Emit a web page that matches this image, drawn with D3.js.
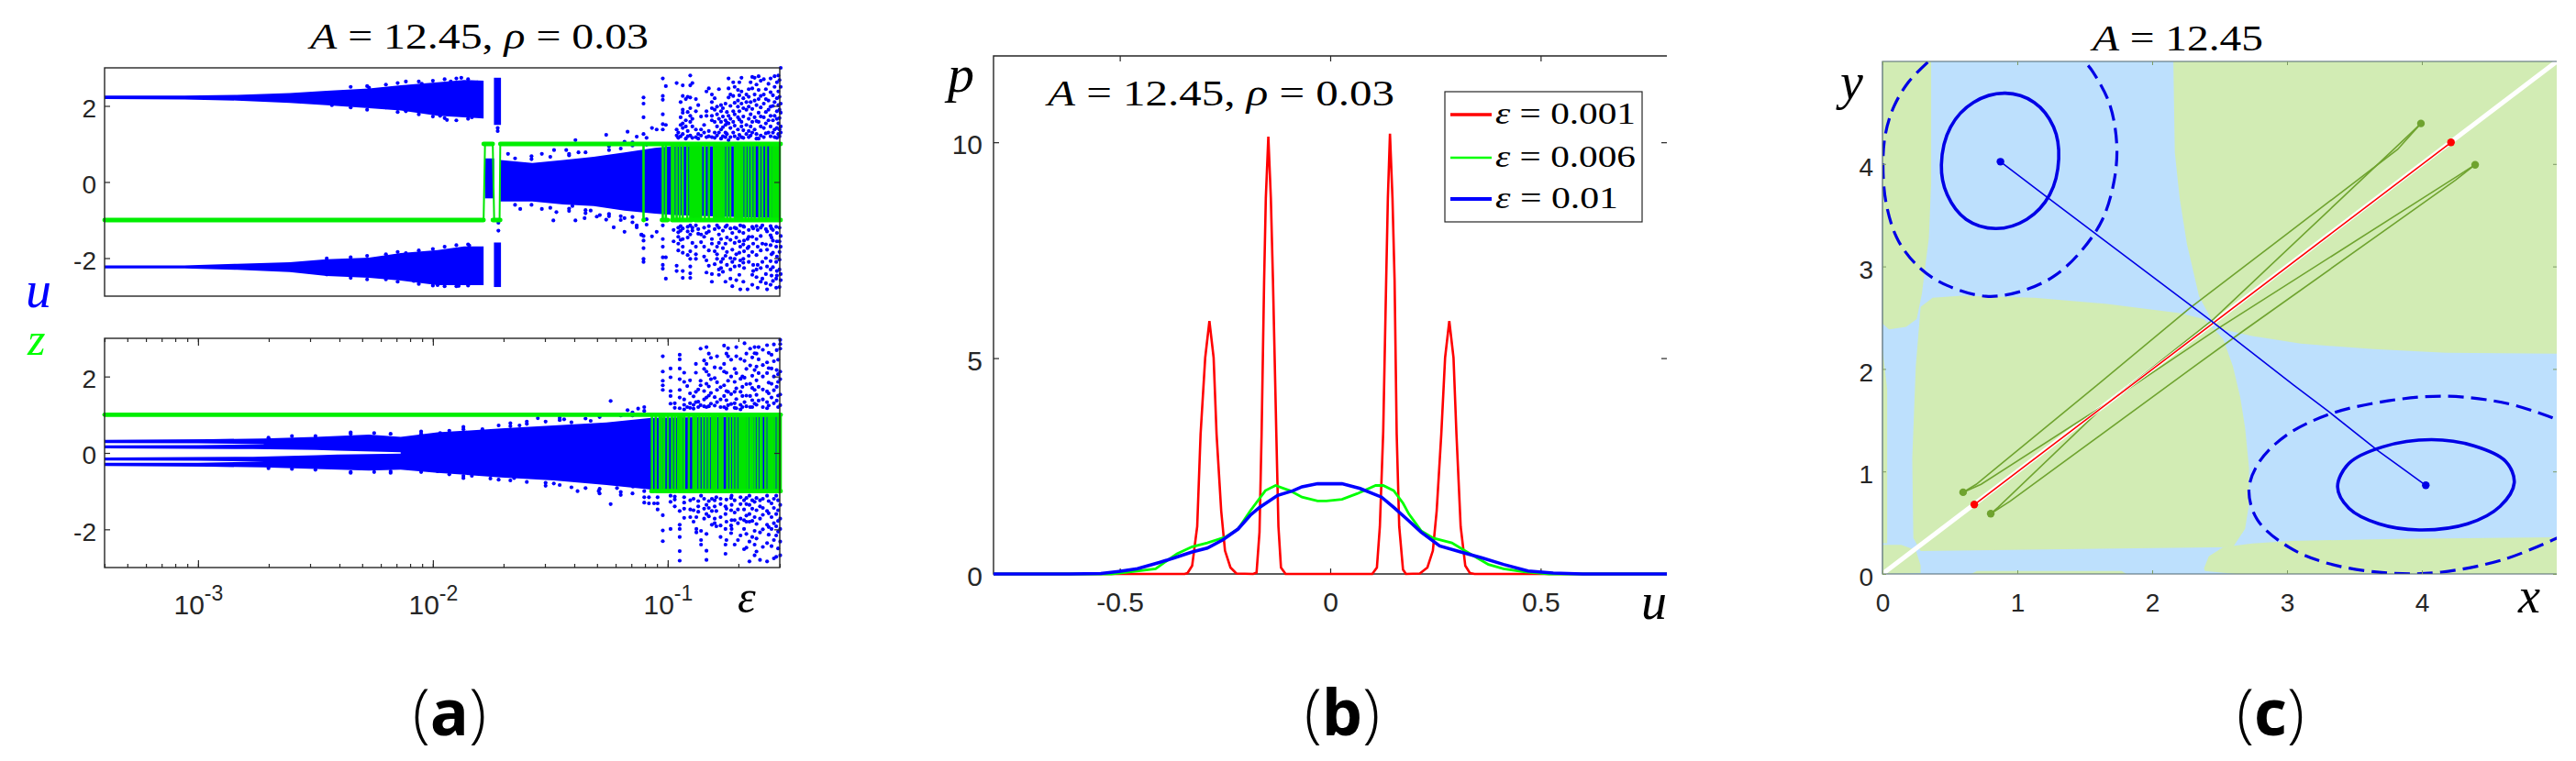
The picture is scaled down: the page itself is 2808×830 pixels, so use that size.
<!DOCTYPE html>
<html>
<head>
<meta charset="utf-8">
<script src="https://cdn.jsdelivr.net/npm/d3@7"></script>
<style>
  html, body { margin: 0; background: #fff; }
  svg { display: block; }
  .tick text { font-family: "Liberation Sans", sans-serif; fill: #262626; }
  .math { font-family: "Liberation Serif", serif; }
</style>
</head>
<body>
<div id="chart"></div>
<script>
// panel a: eps values are kept as log10(eps)
var uHighEps = [-3.398, -3.058, -2.834, -2.609, -2.452, -2.272, -2.137, -1.98, -1.867, -1.784]
var uHighHi = [2.27, 2.27, 2.29, 2.34, 2.40, 2.46, 2.54, 2.62, 2.68, 2.66]
var uHighLo = [2.18, 2.17, 2.14, 2.08, 2.02, 1.94, 1.88, 1.74, 1.70, 1.67]
var uLowHi = [-2.19, -2.19, -2.15, -2.11, -2.03, -1.99, -1.87, -1.79, -1.69, -1.69]
var uLowLo = [-2.27, -2.27, -2.31, -2.37, -2.47, -2.52, -2.59, -2.71, -2.71, -2.71]
var uColumnEps = [-1.74, -1.71]
var uColumnHiTop = [2.74, 2.74]
var uColumnLoTop = [1.5, 1.5]
var uColumnHiLow = [-1.59, -1.59]
var uColumnLoLow = [-2.76, -2.76]
var uStubEps = [-1.778, -1.739]
var uStubHi = [0.62, 0.62]
var uStubLo = [-0.43, -0.43]
var uMidEps = [-1.713, -1.576, -1.445, -1.315, -1.184, -1.054, -0.975, -0.519]
var uMidHi = [0.58, 0.50, 0.58, 0.66, 0.78, 0.90, 0.94, 0.95]
var uMidLo = [-0.51, -0.51, -0.59, -0.63, -0.75, -0.83, -0.87, -0.95]

// scatter outside the dense bands, [log10 eps, [u, u, ...]]
var uScatter = [
  [-2.35, [2.5, 1.96, -2.52, -1.98]], [-2.28, [2.52, 1.9, -2.56, -1.94]], [-2.2, [2.56, -1.9, -2.56]], [-2.15, [2.6, 1.84, -1.84, -2.62]],
  [-2.06, [2.64, 1.78, -1.8, -2.68]], [-2.0, [2.66, 1.72, -1.76, -2.72]], [-1.95, [2.7, 1.68, -1.7, -2.74]], [-1.9, [2.72, 1.62, -1.66, -2.74]],
  [-1.85, [2.7, 1.66, -1.64, -2.72]],
  [-1.65, [0.62, -0.6]], [-1.58, [0.6, 0.68, -0.6]], [-1.5, [0.66, -0.68]], [-1.42, [0.7, 0.74, -0.7, -0.76]], [-1.35, [0.78, -0.74, -0.82]],
  [-1.25, [0.84, 0.94, -0.84, -0.9]], [-1.2, [0.88, -0.9, -1.0]], [-1.15, [0.96, 1.04, -0.92, -1.06]], [-1.09, [0.98, 1.16, -0.98, -1.12]],
  [-2.115, [2.64, 1.86, -1.87]], [-2.272, [2.48]], [-1.879, [2.74]], [-1.969, [1.74]], [-1.94, [1.63]],
  [-1.834, [1.7]], [-2.43, [2.02]], [-2.2, [1.96, -1.99]], [-2.047, [2.58]], [-1.924, [2.64]],
  [-1.811, [2.62, -2.63]], [-1.856, [1.78]], [-2.013, [1.98]], [-1.845, [-1.67]], [-1.913, [-1.79]],
  [-1.98, [-2.71]], [-2.081, [-2.6]], [-2.171, [-2.47]], [-1.89, [-2.73]], [-2.452, [-2.43, -2.01]],
  [-1.724, [1.34, 1.42]], [-1.721, [-1.28, -1.07]],
  [-1.68, [0.74]], [-1.484, [0.84]], [-1.432, [0.84]], [-1.393, [1.1, -1.01]], [-1.38, [0.78]],
  [-1.536, [0.74, -0.71]], [-1.262, [1.24, -0.99]], [-1.171, [1.32]], [-1.132, [1.19, -1.19]],
  [-1.184, [1.06, -1.31, -0.95]], [-1.067, [1.42, -1.43]], [-1.047, [1.38, -1.31]], [-1.628, [-0.71]],
  [-1.474, [-0.79]], [-1.487, [-1.01]], [-1.354, [-0.95]], [-1.302, [-0.91]], [-1.23, [-1.19]],
  [-1.112, [-1.39]], [-1.406, [-0.63]], [-1.328, [-0.75]], [-1.289, [-0.87]],
  [-1.132, [-1.14]], [-1.112, [-1.38]],
  [-1.103, [2.22, 2.06, 1.70, 1.26, -1.42, -1.54, -1.74, -2.02, -2.1]],
  [-1.021, [2.72, 2.26, 2.16, 1.78, 1.52, 1.38, -1.14, -1.5, -1.7, -1.98, -2.18, -2.28]],
  [-1.008, [2.52, 1.5, -1.98, -2.54]],
  [-0.975, [-1.26, -1.56]],
  [-0.962, [2.6, 1.38, 1.22, -2.2, -2.34]],
  [-0.955, [1.3, 1.16, -1.2, -1.32, -1.44, -1.62, -1.8]],
  [-0.945, [2.1, 1.7, 1.5, 1.2, -1.16, -1.28, -1.52]],
  [-0.936, [2.54, 2.26, 1.9, 1.82, 1.54, 1.42, 1.26, -1.22, -1.5, -1.7, -1.86, -2.34, -2.52]],
  [-0.923, [2.18, 1.62, 1.46, 1.14]],
  [-0.915, [2.24, 1.84, 1.34, 1.2, -1.18, -1.3, -1.46, -1.92]],
  [-0.904, [2.8, 2.54, 2.22, 1.94, 1.74, 1.58, 1.22, -1.14, -1.38, -1.82, -2.02, -2.22, -2.4, -2.52]],
  [-0.895, [2.6, 1.66, 1.46, 1.16, -1.2, -1.28, -1.6]],
  [-0.88, [2.18, 1.86, 1.38, 1.18, -1.14, -1.7, -1.9, -2.02]],
  [-0.87, [2.02, 1.26, 1.14, -1.24, -1.36]],
  [-0.858, [1.72, 1.38, 1.22, -1.38, -1.58]],
  [-0.845, [1.5, 1.3, -1.2, -1.44, -1.7, -1.96]],
  [-0.835, [2.38, 1.86, 1.74, 1.18, -1.34, -2.06, -2.38]],
  [-0.825, [2.46, 1.34, 1.2, -1.16, -1.3, -1.8, -2.2]],
  [-0.812, [2.3, 2.1, 1.94, 1.74, 1.62, 1.18, -1.5, -1.62, -2.42, -2.62]],
  [-0.8, [2.2, 1.9, 1.58, 1.3, 1.16, -1.24, -1.82, -2.16]],
  [-0.79, [1.98, 1.78, 1.46, 1.22, -1.14, -1.7, -1.9, -2.02]],
  [-0.782, [2.44, 1.66, 1.3, -1.2, -1.38, -1.6, -2.3, -2.44]],
  [-0.773, [2.02, 1.86, 1.58, 1.38, 1.14, -1.5, -2.1, -2.26]],
  [-0.765, [1.94, 1.72, 1.44, 1.2, -1.28, -1.74, -2.02, -2.36]],
  [-0.754, [2.06, 1.62, 1.5, 1.3, 1.18, -1.18, -1.62, -1.94, -2.62]],
  [-0.748, [1.84, 1.56, 1.26, -1.14, -1.46, -1.84, -2.18]],
  [-0.741, [2.72, 2.46, 2.22, 1.74, 1.54, 1.1]],
  [-0.733, [2.3, 2.0, 1.66, 1.42, 1.18, -1.22, -1.52, -2.0, -2.3, -2.54]],
  [-0.725, [-1.34, -1.78, -2.1, -2.74]],
  [-0.721, [2.62, 2.26, 1.86, 1.58, 1.3]],
  [-0.715, [2.5, 2.08, 1.78, 1.48, 1.2, -1.2, -1.6, -2.02, -2.22]],
  [-0.708, [-1.22, -1.46, -1.9, -2.58]],
  [-0.701, [2.42, 2.14, 1.98, 1.7, 1.38, 1.14]],
  [-0.695, [2.62, 2.28, 1.86, 1.64, 1.24, -1.3, -1.56, -1.86, -2.2, -2.44]],
  [-0.691, [-1.14, -1.7, -2.06, -2.82]],
  [-0.686, [2.74, 2.38, 2.06, 1.58, 1.46, 1.18]],
  [-0.678, [2.2, 1.94, 1.72, 1.36, 1.16, -1.16, -1.34, -1.64, -2.02, -2.12, -2.62]],
  [-0.675, [-1.18, -1.54, -1.82, -2.26]],
  [-0.665, [2.3, 2.1, 1.9, 1.5, 1.26]],
  [-0.66, [-1.5, -1.74, -2.82]],
  [-0.655, [2.44, 2.24, 1.98, 1.66, 1.34, 1.18, -1.26, -1.44, -1.7, -1.94, -2.1]],
  [-0.647, [2.62, 2.1, 1.78, 1.46, 1.22]],
  [-0.64, [2.76, 2.46, 1.92, 1.58, 1.3, -1.18, -1.44, -1.84, -2.44, -2.7]],
  [-0.636, [-1.22, -1.62, -2.18, -2.34]],
  [-0.63, [2.74, 2.3, 2.14, 1.7, 1.38]],
  [-0.622, [2.56, 2.02, 1.6, 1.26, 1.14, -1.16, -1.5, -1.92, -2.3, -2.5]],
  [-0.617, [-1.26, -1.7, -2.18, -2.78]],
  [-0.613, [2.78, 2.42, 2.18, 1.82, 1.58, 1.14]],
  [-0.604, [2.66, 2.26, 1.96, 1.72, 1.46, 1.22, -1.2, -1.42, -1.8, -2.26, -2.62]],
  [-0.597, [-1.14, -1.62, -2.1, -2.54]],
  [-0.591, [2.7, 2.3, 2.06, 1.7, 1.42, 1.18]],
  [-0.582, [2.44, 2.18, 1.84, 1.54, 1.28, -1.24, -1.64, -2.0, -2.42, -2.66]],
  [-0.577, [-1.3, -1.78, -2.22, -2.82]],
  [-0.571, [2.58, 2.14, 1.9, 1.62, 1.3]],
  [-0.562, [2.72, 2.36, 1.98, 1.74, 1.46, 1.2, -1.16, -1.4, -1.66, -2.08, -2.3, -2.7]],
  [-0.558, [-1.22, -1.46, -1.9, -2.46]],
  [-0.552, [2.28, 2.0, 1.62, 1.3, -1.26, -1.54, -1.86, -2.24, -2.6]],
  [-0.545, [2.78, 2.5, 2.1, 1.74, 1.38, 1.18]],
  [-0.538, [-1.18, -1.7, -2.1, -2.54, -2.78]],
  [-0.535, [2.62, 2.2, 1.86, 1.66, 1.42, 1.16, -1.34, -1.56, -1.96, -2.34, -2.46]],
  [-0.529, [2.8, 2.38, 2.02, 1.54, 1.26]],
  [-0.524, [2.68, 2.24, 1.9, 1.68, 1.38, 1.2, -1.2, -1.56, -1.84, -2.04, -2.3, -2.76]],
  [-0.519, [3.0, 2.5, 2.06, 1.82, 1.46, 1.3, -1.42, -1.7, -2.42, -2.58]]
]

var zBandEps = [-3.398, -2.946, -2.721, -2.497, -2.272, -2.137, -1.98, -1.71, -1.485, -1.261, -1.07, -0.519]
var zBandHi = [0.34, 0.36, 0.38, 0.42, 0.48, 0.42, 0.54, 0.64, 0.72, 0.80, 0.92, 0.96]
var zBandLo = [-0.34, -0.36, -0.38, -0.42, -0.46, -0.44, -0.52, -0.64, -0.72, -0.84, -0.96, -0.96]
var zGapEps = [-3.398, -2.766, -2.497, -2.407, -2.137]
var zGapHi = [0.12, 0.10, 0.08, 0.06, 0.02]
var zGapLo = [-0.12, -0.10, -0.06, -0.04, -0.02]
var zSlitEps = [-3.398, -3.0, -2.72]
var zSlitHi = [0.26, 0.255, 0.23]
var zSlitLo = [0.20, 0.205, 0.225]

var zScatter = [
  [-2.7, [0.4, -0.4]], [-2.6, [0.44, -0.42]], [-2.5, [0.44, -0.44]], [-2.35, [0.5, 0.54, -0.5, -0.52]], [-2.25, [0.52, -0.5]], [-2.18, [0.5, -0.52, -0.48]],
  [-2.05, [0.5, -0.5, 0.56]], [-1.93, [0.58, -0.56]], [-1.87, [0.62, 0.68, -0.6, -0.66]], [-1.72, [0.72, -0.7]], [-1.67, [0.7, 0.78, -0.72]],
  [-1.6, [0.76, 0.82, -0.76]], [-1.52, [0.82, -0.78, -0.86]], [-1.46, [0.86, 0.92, -0.84]], [-1.41, [0.8, -0.9]], [-1.35, [0.9, -0.92]],
  [-1.29, [0.94, 0.96, -0.94, -1.06]], [-1.2, [0.98, -1.02, -1.1]], [-1.15, [0.98, 1.06, -1.06]], [-1.1, [1.1, 1.2, -1.0, -1.16, -1.3]],
  [-1.243, [1.36, -1.34]], [-1.553, [0.91]], [-1.441, [0.88]], [-1.631, [0.72]], [-1.789, [0.62]],
  [-1.969, [0.52]], [-1.328, [0.84]], [-1.171, [1.12]], [-1.126, [1.16]], [-1.294, [-1.0]],
  [-1.384, [-1.0]], [-1.216, [-0.92]], [-1.485, [-0.8]], [-1.654, [-0.66]], [-1.755, [-0.67]],
  [-1.834, [-0.6]], [-1.98, [-0.48]], [-1.148, [-0.88]], [-1.058, [-1.32]],
  [-1.08, [-1.16, -1.32]],
  [-1.043, [-1.16, -1.32, -1.48]],
  [-1.021, [2.53, 2.13, 1.89, 1.77, 1.65, -1.63, -2.03, -2.31]],
  [-0.988, [2.21, 1.98, 1.62, 1.49, 1.29, -1.12, -1.28, -1.99]],
  [-0.97, [1.3, 1.18, -1.14, -1.22, -1.4]],
  [-0.949, [2.57, 2.45, 2.21, 1.93, 1.65, 1.45, 1.17, -1.52, -1.88, -1.99, -2.2, -2.57, -2.82]],
  [-0.93, [2.1, 1.86, 1.4, 1.26, 1.14, -1.16, -1.3, -1.46, -1.7]],
  [-0.917, [1.75, 1.2]],
  [-0.905, [1.9, 1.56, 1.3, 1.18]],
  [-0.904, [-1.24, -1.48, -1.68]],
  [-0.89, [1.48, 1.26, 1.16, -1.2, -1.5, -1.8]],
  [-0.88, [2.33, 2.1, 1.6, 1.33]],
  [-0.878, [-1.68, -1.99, -2.08]],
  [-0.87, [1.66, 1.34, 1.2, -1.26, -1.4, -1.54]],
  [-0.86, [2.73, 1.89, 1.77, 1.25]],
  [-0.858, [-1.12, -2.04, -2.28, -2.4]],
  [-0.845, [2.42, 2.2, 1.62, 1.4, 1.22, -1.2, -1.46, -1.72]],
  [-0.835, [2.77, 2.33, 2.13, 1.81, 1.45, 1.2, -1.36, -1.6, -2.12, -2.56, -2.8]],
  [-0.825, [2.6, 2.04, 1.74, 1.5, 1.22, -1.26, -1.44, -1.66]],
  [-0.816, [2.49, 1.93, 1.57, 1.29]],
  [-0.812, [-1.2, -1.52, -1.88]],
  [-0.8, [2.24, 1.96, 1.46, 1.24, -1.24, -1.4, -1.72, -1.84]],
  [-0.793, [-1.16, -1.52, -1.92]],
  [-0.79, [2.53, 1.85, 1.65, 1.33]],
  [-0.775, [2.22, 1.72, 1.4, 1.2, -1.2, -1.34, -1.68, -1.9, -2.2]],
  [-0.76, [2.81, 2.33, 2.13, 1.77, 1.49, 1.2]],
  [-0.754, [-1.4, -1.6, -1.99, -2.4, -2.64]],
  [-0.75, [2.6, 2.1, 1.62, 1.38, 1.16, -1.22, -1.46, -1.8, -2.28]],
  [-0.743, [2.74, 2.53, 1.89, 1.6, 1.25]],
  [-0.73, [2.44, 2.0, 1.54, 1.28, -1.18, -1.5, -1.9, -2.1]],
  [-0.728, [-1.12, -1.36, -1.76, -1.99]],
  [-0.715, [2.2, 1.86, 1.6, 1.3, 1.18, -1.24, -1.56, -1.76, -2.4]],
  [-0.708, [2.77, 2.53, 2.09, 1.69, 1.41, 1.17]],
  [-0.701, [-1.48, -1.84, -2.28]],
  [-0.69, [2.46, 1.94, 1.6, 1.26, 1.14, -1.16, -1.34, -1.72, -2.16]],
  [-0.682, [2.0, 1.73, 1.49, 1.2]],
  [-0.675, [-1.24, -1.48, -1.76, -1.99, -2.52]],
  [-0.673, [2.87, 2.41, 1.97, 1.33]],
  [-0.665, [2.6, 2.2, 1.8, 1.5, 1.22, -1.18, -1.34, -1.64, -1.8, -2.12, -2.48]],
  [-0.652, [-1.12, -1.36, -1.6, -1.8, -2.32, -2.84]],
  [-0.649, [2.73, 2.29, 1.81, 1.49, 1.2]],
  [-0.64, [2.5, 2.02, 1.7, 1.38, 1.2, -1.24, -1.46, -1.78, -2.2]],
  [-0.63, [2.77, 2.61, 2.17, 1.65, 1.29, -1.28, -1.68, -2.04, -2.4, -2.68]],
  [-0.622, [2.6, 2.26, 1.9, 1.52, 1.26, -1.18, -1.5, -1.86, -2.24, -2.58]],
  [-0.613, [2.77, 2.45, 2.09, 1.73, 1.37]],
  [-0.607, [-1.24, -1.4, -1.72, -2.08, -2.8]],
  [-0.595, [2.7, 2.3, 2.0, 1.66, 1.4, 1.2, -1.2, -1.44, -1.62, -2.0, -2.46]],
  [-0.577, [2.82, 2.37, 2.09, 1.61, 1.33, 1.17, -1.12, -1.52, -1.88, -2.36, -2.84]],
  [-0.57, [2.62, 2.22, 1.84, 1.56, 1.24, -1.26, -1.58, -1.94, -2.14]],
  [-0.558, [2.57, 2.21, 1.81, 1.45, -1.32, -1.68, -1.99, -2.44]],
  [-0.548, [2.84, 2.4, 2.0, 1.64, 1.3, -1.2, -1.44, -1.84, -2.28, -2.76]],
  [-0.538, [-1.12, -1.6, -1.92, -2.16, -2.72]],
  [-0.536, [2.69, 2.17, 1.73, 1.37]],
  [-0.53, [2.44, 2.06, 1.86, 1.5, 1.2, -1.24, -1.5, -1.78, -2.06, -2.5]],
  [-0.521, [2.96, 2.85, 2.73, 2.13, 1.93, 1.53, 1.25, -1.36, -1.72, -1.99, -2.32, -2.68]]
]

// z trace: the slanted early switches, then the near vertical ones
var zStepsTop = [[-1.784, -1], [-1.778, 1], [-1.745, 1], [-1.739, -1], [-1.716, -1], [-1.713, 1]]
var zFlipsTop = [-1.103, -1.021, -1.008, -0.982, -0.975, -0.962, -0.949, -0.936, -0.917, -0.904, -0.897, -0.891, -0.889, -0.884, -0.878,
  -0.875, -0.871, -0.868, -0.865, -0.858, -0.842, -0.825, -0.803, -0.8, -0.793, -0.79, -0.786, -0.78, -0.776, -0.773, -0.77, -0.767,
  -0.763, -0.76, -0.747, -0.734, -0.714, -0.71, -0.705, -0.7, -0.695, -0.69, -0.682, -0.669, -0.656, -0.643, -0.63, -0.61, -0.597,
  -0.581, -0.564, -0.56, -0.551, -0.546, -0.542, -0.537, -0.532, -0.528, -0.523]
var zLevelsTop = [
  [-3.398, -1.784, -1], [-1.745, -1.713, -1], [-1.103, -1.102, -1], [-1.025, -1.0, -1], [-0.982, -0.897, -1], [-0.884, -0.519, -1],
  [-1.784, -1.745, 1], [-1.713, -0.519, 1]
]
var zFlipsBottom = [-1.067, -1.051, -1.034, -1.025, -1.015, -0.999, -0.982, -0.969, -0.956, -0.949, -0.946, -0.943, -0.94, -0.93, -0.91,
  -0.891, -0.885, -0.878, -0.865, -0.851, -0.838, -0.825, -0.812, -0.803, -0.8, -0.793, -0.78, -0.775, -0.767, -0.747, -0.734, -0.721,
  -0.708, -0.695, -0.69, -0.682, -0.675, -0.669, -0.66, -0.649, -0.64, -0.63, -0.617, -0.604, -0.6, -0.584, -0.571, -0.565, -0.562,
  -0.555, -0.545, -0.532, -0.525, -0.519]
var zLevelsBottom = [[-3.398, -0.519, 1], [-1.07, -1.06, -1], [-1.05, -0.965, -1], [-0.955, -0.519, -1]]

// panel b, [u, p]
var pRed = [[-0.8, 0], [-0.346, 0], [-0.339, 0.02], [-0.328, 0.19], [-0.316, 1.1], [-0.308, 3.24], [-0.297, 5.01], [-0.287, 5.86],
  [-0.277, 5.01], [-0.27, 3.24], [-0.259, 1.46], [-0.25, 0.54], [-0.237, 0.15], [-0.223, 0.01], [-0.183, 0], [-0.175, 0.03],
  [-0.168, 0.97], [-0.163, 3.24], [-0.157, 6.8], [-0.153, 8.7], [-0.147, 10.13], [-0.141, 8.7], [-0.136, 6.8], [-0.128, 3.24],
  [-0.123, 1.1], [-0.117, 0.15], [-0.106, 0], [0.1, 0], [0.111, 0.15], [0.118, 1.1], [0.126, 3.3], [0.133, 6.8], [0.137, 8.7],
  [0.142, 10.2], [0.148, 8.7], [0.153, 6.8], [0.158, 3.24], [0.164, 1.1], [0.173, 0.1], [0.18, 0], [0.213, 0.01], [0.231, 0.15],
  [0.244, 0.54], [0.253, 1.46], [0.264, 3.24], [0.273, 5.01], [0.283, 5.86], [0.293, 5.01], [0.3, 3.24], [0.31, 1.1],
  [0.321, 0.19], [0.332, 0.02], [0.343, 0], [0.8, 0]]
var pGreen = [[-0.8, 0], [-0.52, 0], [-0.473, 0.05], [-0.415, 0.12], [-0.364, 0.47], [-0.328, 0.63], [-0.292, 0.72], [-0.248, 0.86],
  [-0.219, 1.04], [-0.19, 1.46], [-0.154, 1.93], [-0.13, 2.05], [-0.096, 1.93], [-0.067, 1.78], [-0.03, 1.69], [-0.009, 1.69],
  [0.028, 1.73], [0.064, 1.86], [0.108, 2.05], [0.126, 2.05], [0.151, 1.93], [0.173, 1.64], [0.187, 1.39], [0.216, 1.0],
  [0.245, 0.83], [0.289, 0.72], [0.325, 0.51], [0.376, 0.22], [0.412, 0.12], [0.46, 0.05], [0.52, 0], [0.8, 0]]
var pBlue = [[-0.8, 0], [-0.62, 0], [-0.545, 0.01], [-0.502, 0.06], [-0.458, 0.12], [-0.408, 0.26], [-0.371, 0.37], [-0.328, 0.51],
  [-0.292, 0.6], [-0.255, 0.79], [-0.219, 1.04], [-0.19, 1.36], [-0.168, 1.54], [-0.125, 1.82], [-0.088, 1.93], [-0.067, 2.02],
  [-0.03, 2.09], [0.028, 2.09], [0.071, 1.98], [0.122, 1.78], [0.151, 1.54], [0.18, 1.29], [0.216, 0.97], [0.26, 0.65],
  [0.31, 0.51], [0.361, 0.37], [0.412, 0.22], [0.47, 0.07], [0.53, 0.02], [0.6, 0], [0.8, 0]]
var legendLabels = ['0.001', '0.006', '0.01']
var legendColors = ['#ff0000', '#00ff00', '#0000ff']

// panel c regions, [x, y]
var greenRegions = [
  [[0, 5], [0.361, 5], [0.361, 3.81], [0.344, 3.276], [0.318, 3.008], [0.293, 2.739], [0.254, 2.486], [0.175, 2.41], [0.049, 2.387], [0, 2.441]],
  [[2.157, 5], [5, 5], [5, 2.148], [4.18, 2.157], [3.641, 2.193], [3.102, 2.247], [2.743, 2.321], [2.491, 2.396], [2.438, 2.486], [2.348, 2.709], [2.258, 3.217], [2.204, 3.664], [2.168, 4.112]],
  [[0.283, 2.605], [0.372, 2.694], [0.588, 2.715], [1.127, 2.694], [1.665, 2.635], [2.204, 2.545], [2.384, 2.486], [2.527, 2.292], [2.599, 2.023], [2.653, 1.725], [2.689, 1.426], [2.718, 1.038], [2.718, 0.68], [2.689, 0.441], [2.599, 0.262], [0.283, 0.224], [0.229, 0.352], [0.221, 1.128], [0.247, 2.023]],
  [[0, 0.283], [0.139, 0.283], [0.247, 0.232], [0.283, 0.083], [0.283, 0.009], [0, 0]],
  [[2.384, 0.054], [2.42, 0.173], [2.527, 0.262], [2.743, 0.298], [3.03, 0.322], [3.82, 0.343], [5, 0.358], [5, 0], [2.617, 0], [2.391, 0.03]],
  [[0.7, 0.03], [1.773, 0.03], [1.81, 0], [0.66, 0]],
  [[0, 2.2], [0.035, 1.8], [0.035, 0.3], [0, 0.3]]
]
var orbitUpper = [[0.91, 4.69], [1.125, 4.6], [1.269, 4.36], [1.307, 4.05], [1.24, 3.7], [1.07, 3.46], [0.84, 3.37], [0.62, 3.46], [0.48, 3.7], [0.437, 3.99], [0.505, 4.36], [0.675, 4.6]]
var orbitLower = [[4.07, 1.31], [4.385, 1.25], [4.62, 1.1], [4.685, 0.89], [4.58, 0.66], [4.34, 0.49], [3.98, 0.43], [3.68, 0.49], [3.46, 0.64], [3.375, 0.85], [3.46, 1.08], [3.71, 1.24]]
var boundUpper = [[0.336, 4.992], [0.193, 4.798], [0.085, 4.56], [0.022, 4.291], [0.004, 3.992], [0.029, 3.605], [0.119, 3.247], [0.283, 2.978], [0.48, 2.814], [0.767, 2.709], [1.019, 2.754], [1.27, 2.903], [1.468, 3.142], [1.63, 3.455], [1.719, 3.843], [1.737, 4.201], [1.683, 4.589], [1.558, 4.903], [1.504, 4.992]]
var boundLower = [[4.97, 1.522], [4.647, 1.659], [4.18, 1.734], [3.749, 1.689], [3.318, 1.56], [2.994, 1.352], [2.797, 1.098], [2.718, 0.829], [2.779, 0.531], [3.012, 0.262], [3.318, 0.098], [3.749, 0.009], [4.144, 0.018], [4.611, 0.143], [5.006, 0.352]]
var diagonal = [[0, 0], [5, 5]]
var redTrace = [[0.681, 0.677], [4.216, 4.21]]
var blueTrace = [[0.875, 4.022], [1.217, 3.679], [2.437, 2.47], [3.048, 1.844], [3.318, 1.575], [3.677, 1.2], [4.029, 0.865]]
var greenTraces = [
  [[3.993, 4.395], [3.82, 4.142], [2.276, 2.59], [1.593, 1.844], [0.695, 0.874], [0.598, 0.797]],
  [[3.993, 4.395], [3.91, 4.29], [2.455, 2.486], [1.665, 1.665], [0.857, 0.65], [0.803, 0.588]],
  [[4.395, 3.992], [4.25, 3.87], [2.49, 2.396], [1.665, 1.665], [0.731, 0.874], [0.598, 0.797]],
  [[4.395, 3.992], [4.25, 3.843], [2.67, 2.366], [2.31, 2.023], [0.947, 0.71], [0.803, 0.588]]
]

var svg = d3.select('#chart').append('svg').attr('width', 2808).attr('height', 830)

var darkInk = '#262626'

function axisText(sel, size) {
    sel.select('.domain').remove()
    sel.selectAll('line').attr('stroke', darkInk).attr('stroke-width', 1.2)
    sel.selectAll('text').style('font-size', size + 'px')
}

// text with italic pieces: parts is a list of [string, italic]
function mathText(x, y, size, parts, opts) {
    opts = opts || {}
    var t = svg.append('text')
        .attr('class', 'math')
        .attr('x', x)
        .attr('y', y)
        .attr('font-size', size)
        .attr('fill', opts.fill || '#000')
    if (opts.length) t.attr('textLength', opts.length).attr('lengthAdjust', 'spacingAndGlyphs')
    parts.forEach(function(p) {
        t.append('tspan').attr('font-style', p[1] ? 'italic' : 'normal').text(p[0])
    })
    return t
}

function panelLetter(x, letter) {
    var t = svg.append('text')
        .attr('x', x)
        .attr('y', 802)
        .attr('text-anchor', 'middle')
        .attr('font-family', '"Open Sans", sans-serif')
        .attr('font-size', 70)
        .attr('fill', '#000')
    t.append('tspan').attr('font-weight', 300).text('(')
    t.append('tspan').attr('font-weight', 700).text(letter)
    t.append('tspan').attr('font-weight', 300).text(')')
}

// ---- panel a ----
var epsScale = d3.scaleLog().domain([0.0004, 0.3]).range([114, 850])

function eps(v) { return epsScale(Math.pow(10, v)) }

function drawScatterPanel(top, bottom, cfg) {
    var y = d3.scaleLinear().domain([-3, 3]).range([bottom, top])
    var g = svg.append('g')

    function band(e, hi, lo, fill) {
        var area = d3.area()
            .x(function(d) { return eps(d) })
            .y1(function(d, i) { return y(hi[i]) })
            .y0(function(d, i) { return y(lo[i]) })
        g.append('path').attr('d', area(e)).attr('fill', fill)
    }

    cfg.bands.forEach(function(b) { band(b[0], b[1], b[2], b[3]) })

    cfg.scatter.forEach(function(col) {
        g.selectAll(null)
            .data(col[1])
            .enter().append('circle')
            .attr('cx', eps(col[0]))
            .attr('cy', function(d) { return y(d) })
            .attr('r', 2.1)
            .attr('fill', '#0000ff')
    })

    if (cfg.steps.length) {
        var line = d3.line()
            .x(function(d) { return eps(d[0]) })
            .y(function(d) { return y(d[1]) })
        g.append('path')
            .attr('d', line(cfg.steps))
            .attr('fill', 'none')
            .attr('stroke', '#00e600')
            .attr('stroke-width', 2)
    }

    g.selectAll(null)
        .data(cfg.flips)
        .enter().append('line')
        .attr('x1', function(d) { return eps(d) })
        .attr('x2', function(d) { return eps(d) })
        .attr('y1', y(1))
        .attr('y2', y(-1))
        .attr('stroke', '#00e600')
        .attr('stroke-width', 2.6)

    g.selectAll(null)
        .data(cfg.levels)
        .enter().append('line')
        .attr('x1', function(d) { return eps(d[0]) })
        .attr('x2', function(d) { return eps(d[1]) })
        .attr('y1', function(d) { return y(d[2]) })
        .attr('y2', function(d) { return y(d[2]) })
        .attr('stroke', '#00ee00')
        .attr('stroke-width', 4.8)
        .attr('stroke-linecap', 'round')

    g.append('rect')
        .attr('x', 114).attr('y', top)
        .attr('width', 736).attr('height', bottom - top)
        .attr('fill', 'none').attr('stroke', darkInk).attr('stroke-width', 1.4)

    var ticks = [-2, 0, 2]
    var left = svg.append('g').attr('transform', 'translate(114,0)')
        .call(d3.axisLeft(y).tickValues(ticks).tickSize(-6).tickPadding(9).tickFormat(String))
    axisText(left, 28)
    left.selectAll('text').attr('dy', '0.42em')
    svg.append('g').attr('transform', 'translate(850,0)')
        .call(d3.axisRight(y).tickValues(ticks).tickSize(-6).tickFormat(''))
        .call(axisText, 28)
    return y
}

drawScatterPanel(74, 323, {
    bands: [
        [uHighEps, uHighHi, uHighLo, '#0000ff'],
        [uHighEps, uLowHi, uLowLo, '#0000ff'],
        [uColumnEps, uColumnHiTop, uColumnLoTop, '#0000ff'],
        [uColumnEps, uColumnHiLow, uColumnLoLow, '#0000ff'],
        [uStubEps, uStubHi, uStubLo, '#0000ff'],
        [uMidEps, uMidHi, uMidLo, '#0000ff']
    ],
    scatter: uScatter,
    steps: zStepsTop,
    flips: zFlipsTop,
    levels: zLevelsTop
})

drawScatterPanel(369, 619, {
    bands: [
        [zBandEps, zBandHi, zBandLo, '#0000ff'],
        [zGapEps, zGapHi, zGapLo, '#fff'],
        [zSlitEps, zSlitHi, zSlitLo, '#fff'],
        [zSlitEps, zSlitLo.map(function(d) { return -d }), zSlitHi.map(function(d) { return -d }), '#fff']
    ],
    scatter: zScatter,
    steps: [],
    flips: zFlipsBottom,
    levels: zLevelsBottom
})

// log ticks on the lower panel
var minorTicks = epsScale.ticks().filter(function(d) { return d >= 0.0004 && d <= 0.3 })
var majorTicks = [0.001, 0.01, 0.1]

svg.append('g').attr('transform', 'translate(0,619)')
    .call(d3.axisBottom(epsScale).tickValues(minorTicks).tickSize(-4).tickFormat(''))
    .call(axisText, 28)
var epsBottomMajor = svg.append('g').attr('transform', 'translate(0,619)')
    .call(d3.axisBottom(epsScale).tickValues(majorTicks).tickSize(-8).tickFormat(''))
    .call(axisText, 28)
svg.append('g').attr('transform', 'translate(0,369)')
    .call(d3.axisTop(epsScale).tickValues(minorTicks).tickSize(-4).tickFormat(''))
    .call(axisText, 28)
svg.append('g').attr('transform', 'translate(0,369)')
    .call(d3.axisTop(epsScale).tickValues(majorTicks).tickSize(-8).tickFormat(''))
    .call(axisText, 28)

epsBottomMajor.selectAll('.tick text').each(function(d) {
    var t = d3.select(this)
        .attr('y', 51).attr('dy', 0)
        .attr('text-anchor', 'middle')
    t.text(null)
    t.append('tspan').style('font-size', '30px').text('10')
    t.append('tspan').attr('dy', -15).style('font-size', '23px').text(String(Math.round(Math.log10(d))))
})

mathText(338, 53, 40, [['A', 1], [' = 12.45, ', 0], ['ρ', 1], [' = 0.03', 0]], { length: 369 })
mathText(28, 335, 56, [['u', 1]], { fill: '#0000ff' })
mathText(30, 387, 50, [['z', 1]], { fill: '#00ff00' })
mathText(804, 668, 50, [['ε', 1]])
panelLetter(490, 'a')

// ---- panel b ----
var uScale = d3.scaleLinear().domain([-0.8, 0.8]).range([1083, 1817])
var pScale = d3.scaleLinear().domain([0, 12]).range([626, 61])
var pLine = d3.line()
    .x(function(d) { return uScale(d[0]) })
    .y(function(d) { return pScale(d[1]) })

var uAxis = svg.append('g').attr('transform', 'translate(0,626)')
    .call(d3.axisBottom(uScale).tickValues([-0.5, 0, 0.5]).tickSize(-6).tickFormat(String))
    .call(axisText, 30)
uAxis.selectAll('text').attr('y', 41).attr('dy', 0)
svg.append('g').attr('transform', 'translate(0,61)')
    .call(d3.axisTop(uScale).tickValues([-0.5, 0, 0.5]).tickSize(-6).tickFormat(''))
    .call(axisText, 30)
var pAxis = svg.append('g').attr('transform', 'translate(1083,0)')
    .call(d3.axisLeft(pScale).tickValues([0, 5, 10]).tickSize(-6).tickPadding(12).tickFormat(String))
    .call(axisText, 30)
pAxis.selectAll('text').attr('dy', '0.42em')
svg.append('g').attr('transform', 'translate(1817,0)')
    .call(d3.axisRight(pScale).tickValues([0, 5, 10]).tickSize(-6).tickFormat(''))
    .call(axisText, 30)

svg.append('path')
    .attr('d', 'M1817,61H1083V626H1817')
    .attr('fill', 'none').attr('stroke', darkInk).attr('stroke-width', 1.4)

var pSeries = [pRed, pGreen, pBlue]
var pWidths = [2.6, 2.8, 3.6]
pSeries.forEach(function(s, i) {
    svg.append('path')
        .attr('d', pLine(s))
        .attr('fill', 'none')
        .attr('stroke', legendColors[i])
        .attr('stroke-width', pWidths[i])
})

var legend = svg.append('g')
legend.append('rect')
    .attr('x', 1575).attr('y', 100).attr('width', 215).attr('height', 142)
    .attr('fill', '#fff').attr('stroke', darkInk).attr('stroke-width', 1.2)
var legendY = [125, 172, 217]
var legendW = [3.6, 2.4, 4]
legendLabels.forEach(function(label, i) {
    legend.append('line')
        .attr('x1', 1581).attr('x2', 1626)
        .attr('y1', legendY[i]).attr('y2', legendY[i])
        .attr('stroke', legendColors[i]).attr('stroke-width', legendW[i])
    mathText(1630, legendY[i] + 10, 33, [['ε', 1], [' = ' + label, 0]], { length: i === 2 ? 134 : 153 })
})

mathText(1142, 115, 40, [['A', 1], [' = 12.45, ', 0], ['ρ', 1], [' = 0.03', 0]], { length: 378 })
mathText(1033, 100, 58, [['p', 1]])
mathText(1789, 675, 56, [['u', 1]])
panelLetter(1463, 'b')

// ---- panel c ----
var xScale = d3.scaleLinear().domain([0, 5]).range([2052, 2787])
var yScale = d3.scaleLinear().domain([0, 5]).range([626, 67])
var cLine = d3.line()
    .x(function(d) { return xScale(d[0]) })
    .y(function(d) { return yScale(d[1]) })
var cClosed = d3.line()
    .x(function(d) { return xScale(d[0]) })
    .y(function(d) { return yScale(d[1]) })
    .curve(d3.curveCatmullRomClosed)
var cOpen = d3.line()
    .x(function(d) { return xScale(d[0]) })
    .y(function(d) { return yScale(d[1]) })
    .curve(d3.curveCatmullRom)

svg.append('clipPath').attr('id', 'frameC').append('rect')
    .attr('x', 2052).attr('y', 67).attr('width', 735).attr('height', 559)

var c = svg.append('g').attr('clip-path', 'url(#frameC)')
c.append('rect')
    .attr('x', 2052).attr('y', 67).attr('width', 735).attr('height', 559)
    .attr('fill', '#bde0fd')
c.selectAll('.region')
    .data(greenRegions)
    .enter().append('path')
    .attr('class', 'region')
    .attr('d', function(d) { return cLine(d) + 'Z' })
    .attr('fill', '#d2ecb4')

c.append('path').attr('d', cLine(diagonal)).attr('stroke', '#fff').attr('stroke-width', 5).attr('fill', 'none')
greenTraces.forEach(function(t) {
    c.append('path').attr('d', cLine(t)).attr('stroke', '#6fa32f').attr('stroke-width', 1.6).attr('fill', 'none')
})
c.append('path').attr('d', cLine(redTrace)).attr('stroke', '#fff').attr('stroke-width', 3.4).attr('fill', 'none')
c.append('path').attr('d', cLine(redTrace)).attr('stroke', '#ff0000').attr('stroke-width', 1.6).attr('fill', 'none')
c.append('path').attr('d', cLine(blueTrace)).attr('stroke', '#0000e6').attr('stroke-width', 1.6).attr('fill', 'none')

c.append('path').attr('d', cClosed(orbitUpper)).attr('stroke', '#0000e6').attr('stroke-width', 3.6).attr('fill', 'none')
c.append('path').attr('d', cClosed(orbitLower)).attr('stroke', '#0000e6').attr('stroke-width', 3.6).attr('fill', 'none')
c.append('path').attr('d', cOpen(boundUpper)).attr('stroke', '#0000e6').attr('stroke-width', 3.2).attr('stroke-dasharray', '17,8').attr('fill', 'none')
c.append('path').attr('d', cOpen(boundLower)).attr('stroke', '#0000e6').attr('stroke-width', 3.2).attr('stroke-dasharray', '17,8').attr('fill', 'none')

var greenEnds = [greenTraces[0][0], greenTraces[2][0], greenTraces[0][5], greenTraces[1][5]]
c.selectAll('.gEnd')
    .data(greenEnds)
    .enter().append('circle')
    .attr('class', 'gEnd')
    .attr('cx', function(d) { return xScale(d[0]) })
    .attr('cy', function(d) { return yScale(d[1]) })
    .attr('r', 4.2)
    .attr('fill', '#6fa32f')
c.selectAll('.rEnd')
    .data(redTrace)
    .enter().append('circle')
    .attr('class', 'rEnd')
    .attr('cx', function(d) { return xScale(d[0]) })
    .attr('cy', function(d) { return yScale(d[1]) })
    .attr('r', 4.2)
    .attr('fill', '#ff0000')
c.selectAll('.bEnd')
    .data([blueTrace[0], blueTrace[6]])
    .enter().append('circle')
    .attr('class', 'bEnd')
    .attr('cx', function(d) { return xScale(d[0]) })
    .attr('cy', function(d) { return yScale(d[1]) })
    .attr('r', 4.2)
    .attr('fill', '#0000e6')

svg.append('path')
    .attr('d', 'M2787,67H2052V626H2787')
    .attr('fill', 'none').attr('stroke', '#4f6670').attr('stroke-width', 1.2)

var cInts = [0, 1, 2, 3, 4]
var xAxisC = svg.append('g').attr('transform', 'translate(0,626)')
    .call(d3.axisBottom(xScale).tickValues(cInts).tickSize(-4).tickFormat(String))
    .call(axisText, 28)
xAxisC.selectAll('text').attr('y', 41).attr('dy', 0)
var topAxisC = svg.append('g').attr('transform', 'translate(0,67)')
    .call(d3.axisTop(xScale).tickValues(cInts).tickSize(-4).tickFormat(''))
    .call(axisText, 28)
var yAxisC = svg.append('g').attr('transform', 'translate(2052,0)')
    .call(d3.axisLeft(yScale).tickValues(cInts).tickSize(-4).tickPadding(10).tickFormat(String))
    .call(axisText, 28)
yAxisC.selectAll('text').attr('dy', '0.45em')
var rightAxisC = svg.append('g').attr('transform', 'translate(2787,0)')
    .call(d3.axisRight(yScale).tickValues(cInts).tickSize(-4).tickFormat(''))
    .call(axisText, 28)
;[xAxisC, topAxisC, yAxisC, rightAxisC].forEach(function(a) {
    a.selectAll('line').attr('stroke', '#7d9a66').attr('stroke-width', 1)
})

mathText(2281, 55, 40, [['A', 1], [' = 12.45', 0]], { length: 186 })
mathText(2006, 108, 56, [['y', 1]])
mathText(2745, 668, 54, [['x', 1]])
panelLetter(2475, 'c')
</script>
</body>
</html>
